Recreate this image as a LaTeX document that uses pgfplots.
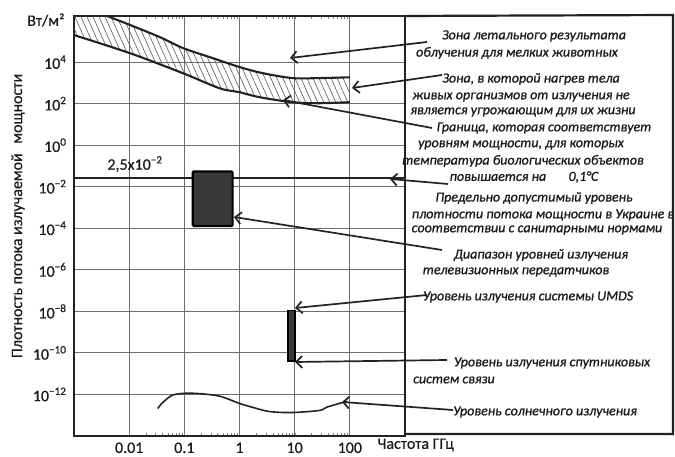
\documentclass[border=0pt]{standalone}
\usepackage{fontspec}
\setmainfont{Carlito}[FakeBold=0.5]
\newfontfamily\annfam{Carlito}[FakeBold=0.9]
\usepackage{pgfplots}
\pgfplotsset{compat=1.18}
\usetikzlibrary{arrows.meta,patterns.meta}
\definecolor{framec}{HTML}{222222}
\definecolor{gridc}{HTML}{6E6E6E}
\definecolor{boxc}{HTML}{3A3A3A}
\definecolor{txt}{HTML}{1A1A1A}
\newcommand\ann{\annfam\fontsize{14}{16}\selectfont\itshape}
\tikzset{annarrow/.style={draw=framec, line width=1.7pt, -{Straight Barb[length=6pt,width=12pt]}}}
\begin{document}
\begin{tikzpicture}
\useasboundingbox (-74pt,-21pt) rectangle (601pt,436pt);
\begin{axis}[
  at={(0pt,0pt)}, anchor=south west,
  scale only axis, width=331pt, height=420pt,
  xmode=log, ymode=log,
  xmin=1e-3, xmax=1e3, ymin=1e-14, ymax=1.66e6,
  xtick={0.01,0.1,1,10,100}, xticklabels={0.01,0.1,1,10,100},
  ytick={1e-12,1e-10,1e-8,1e-6,1e-4,1e-2,1,1e2,1e4},
  yticklabels={10\textsuperscript{−12},10\textsuperscript{−10},10\textsuperscript{−8},10\textsuperscript{−6},10\textsuperscript{−4},10\textsuperscript{−2},10\textsuperscript{0},10\textsuperscript{2},10\textsuperscript{4}},
  minor xtick={}, minor ytick={},
  major tick length=0pt,
  grid=major, major grid style={gridc, line width=0.9pt},
  axis line style={framec, line width=2.2pt},
  tick label style={font=\fontsize{16}{18}\selectfont, text=txt},
  xticklabel style={yshift=-3pt},
  yticklabel style={xshift=-4pt},
  /pgf/number format/assume math mode=true,
]
% hatched zone
\addplot[draw=none, pattern={Lines[angle=114,distance=5.5pt,line width=0.55pt]}, pattern color=gray!60!black] coordinates {
(0.001,1.66e6) (0.00412,1.66e6) (0.0103,6.2e5) (0.0359,1.6e5) (0.0935,4.8e4) (0.288,1.74e4) (1,5.8e3) (2.62,2.95e3) (9.1,1.7e3) (28,1.7e3) (100,1.86e3)
(100,117) (28,105) (9.1,117) (2.31,204) (1,355) (0.436,550) (0.0935,2.95e3) (0.0103,2.7e4) (0.001,2.0e5)} --cycle;
% upper curve
\addplot[framec, line width=2.1pt, smooth] coordinates {
(0.0035,1.9e6) (0.00412,1.6e6) (0.0103,6.2e5) (0.0359,1.6e5) (0.0935,4.8e4) (0.288,1.74e4) (1,5.8e3) (2.62,2.95e3) (9.1,1.7e3) (28,1.7e3) (100,1.86e3)};
% lower curve
\addplot[framec, line width=2.1pt, smooth] coordinates {
(0.001,2.0e5) (0.0103,2.7e4) (0.0935,2.95e3) (0.436,550) (1,355) (2.31,204) (9.1,117) (28,105) (100,117)};
% permissible level
\addplot[framec, line width=2pt] coordinates {(0.001,2.5e-2) (1000,2.5e-2)};
% TV range
\addplot[fill=boxc, draw=black, line width=2.2pt, rounded corners=1pt] coordinates {
(0.142,1.3e-4) (0.75,1.3e-4) (0.75,0.054) (0.142,0.054)} --cycle;
% UMDS / satellite
\addplot[fill=boxc, draw=black, line width=1.8pt] coordinates {
(7.5,4e-11) (10.3,4e-11) (10.3,1.1e-8) (7.5,1.1e-8)} --cycle;
% solar
\addplot[framec, line width=1.6pt, smooth] coordinates {
(0.033,2.1e-13) (0.039,3.7e-13) (0.059,8.9e-13) (0.0935,1.12e-12) (0.168,1.12e-12) (0.385,8.9e-13) (0.585,6.4e-13) (1.0,3.7e-13) (1.73,2.4e-13) (3.5,1.5e-13) (9.1,1.35e-13) (28,1.7e-13) (37.6,2.4e-13) (64.6,3.7e-13) (90,4.6e-13)};
\end{axis}
% right panel frame
\draw[framec, line width=2.2pt] (331pt,420pt) -- (599pt,421pt) -- (599pt,2pt) -- (331pt,2pt);
% labels
\node[anchor=east, font=\fontsize{16}{18}\selectfont, text=txt] at (-6pt,416pt) {Вт/м²};
\node[font=\fontsize{16}{18}\selectfont, text=txt] at (61pt,272pt) {2,5x10\textsuperscript{−2}};
\node[rotate=90, font=\fontsize{16}{18}\selectfont, text=txt] at (-56pt,220pt) {Плотность потока излучаемой\hspace{0.6em}мощности};
\node[anchor=west, font=\fontsize{16}{18}\selectfont, text=txt] at (300pt,-9pt) {Частота ГГц};
% arrows
\draw[annarrow] (353pt,394pt) -- (216pt,378pt);
\draw[annarrow] (368pt,361pt) -- (278pt,348pt);
\draw[annarrow] (358pt,308pt) -- (209pt,336pt);
\draw[annarrow] (374pt,252pt) -- (316pt,257pt);
\draw[annarrow] (368pt,186pt) -- (160pt,219pt);
\draw[annarrow] (353pt,141pt) -- (221pt,128pt);
\draw[annarrow] (373pt,76pt) -- (221pt,74pt);
\draw[annarrow] (379pt,26pt) -- (268pt,34pt);
% annotation texts
\begin{scope}[every node/.style={font=\ann, text=txt, inner sep=0pt}]
\node at (460pt,400pt) {Зона летального результата};
\node at (443pt,383pt) {облучения для мелких животных};
\node at (457pt,357pt) {Зона, в которой нагрев тела};
\node at (447pt,339pt) {живых организмов от излучения не};
\node at (449pt,324pt) {является угрожающим для их жизни};
\node at (470pt,308pt) {Граница, которая соответствует};
\node at (447pt,291pt) {уровням мощности, для которых};
\node at (449pt,275pt) {температура биологических объектов};
\node at (450pt,259pt) {повышается на\hspace{1.6em}0,1°C};
\node at (460pt,238pt) {Предельно допустимый уровень};
\node at (469pt,221pt) {плотности потока мощности в Украине в};
\node at (463pt,206pt) {соответствии с санитарными нормами};
\node at (467pt,181pt) {Диапазон уровней излучения};
\node at (442pt,164pt) {телевизионных передатчиков};
\node at (454pt,139pt) {Уровень излучения системы UMDS};
\node at (478pt,73pt) {Уровень излучения спутниковых};
\node[anchor=west] at (339pt,56pt) {систем связи};
\node at (471pt,24pt) {Уровень солнечного излучения};
\end{scope}
\end{tikzpicture}
\end{document}
